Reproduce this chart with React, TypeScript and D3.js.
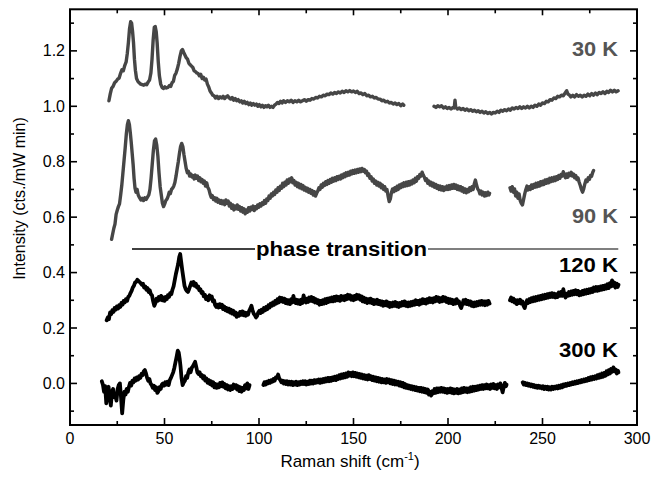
import React from 'react';
import * as d3 from 'd3';

type P = [number, number];

const xMajor = [0, 50, 100, 150, 200, 250, 300];
const xMinor = [25, 75, 125, 175, 225, 275];
const yMajor = [0, 0.2, 0.4, 0.6, 0.8, 1.0, 1.2];
const yMinor = [-0.1, 0.1, 0.3, 0.5, 0.7, 0.9, 1.1, 1.3];

const k30a: P[] = [[20.6,1.02],[21.3,1.045],[22,1.065],[22.8,1.072],[23.6,1.085],[24.4,1.09],[25.2,1.098],[26,1.102],[26.8,1.12],[27.5,1.132],[28.2,1.128],[29,1.148],[29.7,1.16],[30.3,1.19],[30.9,1.23],[31.5,1.28],[32.1,1.305],[32.6,1.3],[33.1,1.27],[33.6,1.23],[34.1,1.17],[34.6,1.13],[35.2,1.1],[35.9,1.09],[36.6,1.085],[37.4,1.08],[38.2,1.078],[39,1.076],[39.8,1.08],[40.6,1.078],[41.4,1.088],[42.1,1.095],[42.8,1.12],[43.4,1.17],[44,1.24],[44.6,1.285],[45.1,1.288],[45.6,1.27],[46.1,1.23],[46.7,1.16],[47.3,1.11],[48,1.08],[48.7,1.068],[49.4,1.064],[50.2,1.07],[51,1.066],[51.8,1.068],[52.6,1.075],[53.3,1.072],[54,1.085],[54.7,1.09],[55.4,1.112],[56.1,1.12],[56.8,1.135],[57.5,1.155],[58.2,1.18],[58.9,1.2],[59.5,1.205],[60.1,1.195],[60.8,1.185],[61.5,1.175],[62.2,1.17],[62.9,1.155],[63.6,1.15],[64.3,1.145],[65,1.14],[65.7,1.128],[66.4,1.125],[67.1,1.12],[67.8,1.118],[68.5,1.11],[69.2,1.115],[69.9,1.1],[70.6,1.105],[71.3,1.095],[72,1.098],[72.7,1.08],[73.4,1.07],[74.1,1.055],[74.8,1.048],[75.5,1.04],[76.2,1.038],[77,1.03],[77.8,1.036],[78.6,1.028],[79.4,1.034],[80.2,1.03],[81,1.036],[81.8,1.028],[82.6,1.034],[83.4,1.038],[84.2,1.03],[85,1.026],[85.8,1.032],[86.6,1.022],[87.4,1.028],[88.2,1.02],[89,1.024],[89.8,1.016],[90.6,1.02],[91.4,1.012],[92.2,1.018],[93,1.01],[93.8,1.014],[94.6,1.006],[95.4,1.012],[96.2,1.004],[97,1.01],[97.8,1.004],[98.6,1.008],[99.4,1],[100.2,1.006],[101,0.998],[101.8,1.004],[102.6,0.996],[103.4,1.002],[104.2,0.998],[105,1.004],[105.8,0.996],[106.6,1],[107.4,0.996],[108.2,1.004],[109,1.008],[109.8,1.014],[110.6,1.01],[111.4,1.018],[112.2,1.012],[113,1.02],[114,1.014],[115,1.02],[116,1.016],[117,1.022],[118,1.014],[119,1.02],[120,1.016],[121,1.022],[122,1.016],[123,1.02],[124,1.024],[125,1.018],[126,1.024],[127,1.022],[128,1.028],[129,1.026],[130,1.032],[131,1.03],[132,1.036],[133,1.034],[134,1.04],[135,1.038],[136,1.044],[137,1.042],[138,1.048],[139,1.044],[140,1.05],[141,1.046],[142,1.052],[143,1.048],[144,1.054],[145,1.05],[146,1.056],[147,1.052],[148,1.057],[149,1.052],[150,1.055],[151,1.05],[152,1.054],[153,1.046],[154,1.048],[155,1.042],[156,1.046],[157,1.038],[158,1.04],[159,1.034],[160,1.036],[161,1.03],[162,1.032],[163,1.026],[164,1.026],[165,1.02],[166,1.022],[167,1.016],[168,1.018],[169,1.012],[170,1.014],[171,1.008],[172,1.012],[173,1.006],[174,1.01],[175,1.002],[176,1.008],[176.6,1.004]];
const k30b: P[] = [[192.6,1],[193.6,0.996],[194.6,1.002],[195.6,0.998],[196.6,1.002],[197.6,0.994],[198.6,0.998],[199.6,0.992],[200.6,0.996],[201.6,0.99],[202.6,0.996],[203.3,0.994],[203.7,1.022],[204.1,0.996],[205,0.99],[206,0.994],[207,0.988],[208,0.992],[209,0.986],[210,0.99],[211,0.984],[212,0.988],[213,0.982],[214,0.986],[215,0.98],[216,0.984],[217,0.978],[218,0.982],[219,0.976],[220,0.98],[221,0.974],[222,0.978],[223,0.972],[224,0.978],[225,0.976],[226,0.982],[227,0.978],[228,0.986],[229,0.982],[230,0.988],[231,0.984],[232,0.99],[233,0.986],[234,0.994],[235,0.99],[236,0.996],[237,0.992],[238,0.998],[239,0.992],[240,0.998],[241,0.994],[242,1],[243,0.994],[244,1],[245,0.996],[246,1.004],[247,1],[248,1.008],[249,1.004],[250,1.012],[251,1.01],[252,1.018],[253,1.016],[254,1.024],[255,1.022],[256,1.03],[257,1.028],[258,1.036],[259,1.034],[260,1.04],[261,1.038],[262,1.048],[262.8,1.056],[263.5,1.044],[264.3,1.04],[265,1.034],[266,1.04],[267,1.034],[268,1.042],[269,1.036],[270,1.04],[271,1.034],[272,1.04],[273,1.036],[274,1.044],[275,1.038],[276,1.046],[277,1.04],[278,1.048],[279,1.042],[280,1.05],[281,1.046],[282,1.052],[283,1.046],[284,1.054],[285,1.05],[286,1.058],[287,1.052],[288,1.058],[289,1.052],[290,1.056]];

const k90a: P[] = [[22,0.52],[22.6,0.54],[23.2,0.56],[23.8,0.575],[24.4,0.61],[25,0.625],[25.6,0.638],[26.2,0.648],[26.8,0.68],[27.4,0.715],[28,0.76],[28.6,0.805],[29.2,0.85],[29.8,0.9],[30.4,0.935],[30.9,0.948],[31.4,0.935],[31.9,0.905],[32.4,0.87],[32.9,0.83],[33.4,0.79],[33.9,0.74],[34.4,0.705],[34.9,0.69],[35.5,0.7],[36.1,0.68],[36.8,0.67],[37.5,0.662],[38.2,0.668],[38.9,0.66],[39.6,0.67],[40.3,0.664],[41,0.672],[41.7,0.68],[42.3,0.7],[42.9,0.74],[43.5,0.79],[44.1,0.84],[44.7,0.875],[45.3,0.882],[45.9,0.86],[46.5,0.82],[47.1,0.76],[47.7,0.71],[48.3,0.68],[48.9,0.65],[49.5,0.638],[50.1,0.648],[50.7,0.66],[51.3,0.665],[51.9,0.675],[52.5,0.69],[53.1,0.685],[53.7,0.7],[54.3,0.705],[54.9,0.712],[55.5,0.725],[56.1,0.748],[56.7,0.775],[57.3,0.8],[57.9,0.83],[58.5,0.855],[59.1,0.866],[59.7,0.855],[60.3,0.825],[60.9,0.8],[61.5,0.775],[62.1,0.76],[62.7,0.765],[63.3,0.748],[63.9,0.756],[64.5,0.745],[65.1,0.75],[65.7,0.738],[66.3,0.752],[66.9,0.74],[67.5,0.748],[68.1,0.732],[68.7,0.742],[69.3,0.728],[69.9,0.736],[70.5,0.722],[71.1,0.73],[71.7,0.712],[72.3,0.724],[72.9,0.708],[73.5,0.7],[74.1,0.684],[74.7,0.672],[75.3,0.678],[75.9,0.664],[76.5,0.67],[77.1,0.658],[77.7,0.668],[78.3,0.654],[78.9,0.662],[79.5,0.65],[80.1,0.66],[80.7,0.648],[81.3,0.658],[81.9,0.645],[82.5,0.662],[83.1,0.65],[83.7,0.658],[84.3,0.64],[84.9,0.65],[85.5,0.632],[86.1,0.644],[86.7,0.626],[87.3,0.64],[87.9,0.63],[88.5,0.644],[89.1,0.628],[89.7,0.638],[90.3,0.622],[90.9,0.634],[91.5,0.618],[92.1,0.63],[92.7,0.612],[93.3,0.626],[93.9,0.618],[94.5,0.634],[95.1,0.622],[95.7,0.636],[96.3,0.628],[96.9,0.64],[97.5,0.624],[98.1,0.638],[98.7,0.63],[99.3,0.644],[99.9,0.636],[100.5,0.648],[101.1,0.64],[101.7,0.652],[102.3,0.646],[102.9,0.66],[103.5,0.65],[104.1,0.666],[104.7,0.66],[105.3,0.676],[105.9,0.668],[106.5,0.684],[107.1,0.676],[107.7,0.69],[108.3,0.682],[108.9,0.698],[109.5,0.69],[110.1,0.706],[110.7,0.696],[111.3,0.712],[111.9,0.704],[112.5,0.722],[113.1,0.71],[113.7,0.726],[114.3,0.716],[114.9,0.734],[115.5,0.722],[116.1,0.738],[116.7,0.728],[117.3,0.742],[117.9,0.724],[118.5,0.732],[119.1,0.716],[119.7,0.726],[120.3,0.71],[120.9,0.722],[121.5,0.706],[122.1,0.718],[122.7,0.702],[123.3,0.714],[123.9,0.698],[124.5,0.708],[125.1,0.694],[125.7,0.704],[126.3,0.69],[126.9,0.7],[127.5,0.686],[128.1,0.696],[128.7,0.68],[129.3,0.692],[129.9,0.676],[130.5,0.686],[131.1,0.694],[131.7,0.706],[132.3,0.7],[132.9,0.716],[133.5,0.708],[134.1,0.722],[134.7,0.714],[135.3,0.728],[135.9,0.718],[136.5,0.732],[137.1,0.722],[137.7,0.736],[138.3,0.726],[138.9,0.74],[139.5,0.73],[140.1,0.742],[140.7,0.732],[141.3,0.746],[141.9,0.736],[142.5,0.748],[143.1,0.738],[143.7,0.752],[144.3,0.742],[144.9,0.756],[145.5,0.746],[146.1,0.76],[146.7,0.75],[147.3,0.762],[147.9,0.752],[148.5,0.766],[149.1,0.756],[149.7,0.768],[150.3,0.758],[150.9,0.77],[151.5,0.76],[152.1,0.772],[152.7,0.762],[153.3,0.774],[153.9,0.764],[154.5,0.776],[155.1,0.766],[155.7,0.772],[156.3,0.76],[156.9,0.766],[157.5,0.75],[158.1,0.756],[158.7,0.74],[159.3,0.746],[159.9,0.73],[160.5,0.738],[161.1,0.722],[161.7,0.73],[162.3,0.716],[162.9,0.726],[163.5,0.712],[164.1,0.722],[164.7,0.706],[165.3,0.716],[165.9,0.7],[166.5,0.71],[167.1,0.694],[167.7,0.7],[168.3,0.676],[168.9,0.656],[169.5,0.666],[170.1,0.69],[170.7,0.702],[171.3,0.692],[171.9,0.706],[172.5,0.696],[173.1,0.712],[173.7,0.7],[174.3,0.716],[174.9,0.706],[175.5,0.72],[176.1,0.71],[176.7,0.724],[177.3,0.712],[177.9,0.726],[178.5,0.714],[179.1,0.728],[179.7,0.716],[180.3,0.73],[180.9,0.72],[181.5,0.734],[182.1,0.724],[182.7,0.74],[183.3,0.73],[183.9,0.746],[184.5,0.74],[185.1,0.754],[185.7,0.748],[186.3,0.762],[186.9,0.752],[187.5,0.744],[188.1,0.732],[188.7,0.738],[189.3,0.722],[189.9,0.73],[190.5,0.716],[191.1,0.726],[191.7,0.712],[192.3,0.722],[192.9,0.708],[193.5,0.718],[194.1,0.704],[194.7,0.714],[195.3,0.7],[195.9,0.712],[196.5,0.698],[197.1,0.71],[197.7,0.696],[198.3,0.708],[198.9,0.7],[199.5,0.712],[200.1,0.7],[200.7,0.714],[201.3,0.702],[201.9,0.716],[202.5,0.704],[203.1,0.718],[203.7,0.704],[204.3,0.716],[204.9,0.7],[205.5,0.712],[206.1,0.698],[206.7,0.71],[207.3,0.694],[207.9,0.706],[208.5,0.69],[209.1,0.702],[209.7,0.688],[210.3,0.7],[210.9,0.692],[211.5,0.706],[212.1,0.696],[212.7,0.71],[213.3,0.7],[213.9,0.72],[214.5,0.734],[215.1,0.716],[215.7,0.702],[216.3,0.696],[216.9,0.684],[217.5,0.694],[218.1,0.68],[218.7,0.69],[219.3,0.676],[219.9,0.688],[220.5,0.678],[221.1,0.69],[221.7,0.68],[222,0.686]];
const k90b: P[] = [[232.8,0.706],[233.4,0.694],[234,0.71],[234.6,0.69],[235.2,0.702],[235.8,0.676],[236.4,0.69],[237,0.668],[237.6,0.684],[238.2,0.66],[238.8,0.65],[239.4,0.644],[240,0.664],[240.6,0.684],[241.2,0.7],[241.8,0.712],[242.4,0.698],[243,0.71],[243.6,0.7],[244.2,0.716],[244.8,0.704],[245.4,0.718],[246,0.708],[246.6,0.722],[247.2,0.71],[247.8,0.724],[248.4,0.712],[249,0.728],[249.6,0.716],[250.2,0.73],[250.8,0.718],[251.4,0.734],[252,0.722],[252.6,0.736],[253.2,0.724],[253.8,0.74],[254.4,0.728],[255,0.742],[255.6,0.73],[256.2,0.744],[256.8,0.732],[257.4,0.746],[258,0.736],[258.6,0.75],[259.2,0.74],[259.8,0.754],[260.4,0.748],[261,0.764],[261.6,0.752],[262.2,0.742],[262.8,0.756],[263.4,0.744],[264,0.758],[264.6,0.75],[265.2,0.762],[265.8,0.748],[266.4,0.756],[267,0.742],[267.6,0.75],[268.2,0.736],[268.8,0.742],[269.4,0.726],[270,0.714],[270.6,0.7],[271.2,0.69],[271.8,0.702],[272.4,0.72],[273,0.734],[273.6,0.728],[274.2,0.742],[274.8,0.736],[275.4,0.75],[276,0.748],[276.6,0.762],[277,0.768]];

const k120a: P[] = [[19.4,0.228],[20,0.238],[20.6,0.232],[21.2,0.256],[21.8,0.25],[22.4,0.264],[23,0.258],[23.6,0.272],[24.2,0.266],[24.8,0.278],[25.4,0.27],[26,0.282],[26.6,0.276],[27.2,0.29],[27.8,0.284],[28.4,0.298],[29,0.292],[29.6,0.304],[30.2,0.298],[30.8,0.312],[31.4,0.316],[32,0.326],[32.6,0.334],[33.2,0.346],[33.8,0.352],[34.4,0.364],[35,0.366],[35.6,0.374],[36.2,0.37],[36.8,0.366],[37.4,0.362],[38,0.356],[38.6,0.36],[39.2,0.346],[39.8,0.35],[40.4,0.338],[41,0.344],[41.6,0.33],[42.2,0.336],[42.8,0.322],[43.4,0.318],[44,0.296],[44.6,0.28],[45.2,0.29],[45.8,0.306],[46.4,0.298],[47,0.312],[47.6,0.302],[48.2,0.316],[48.8,0.3],[49.4,0.31],[50,0.298],[50.6,0.312],[51.2,0.304],[51.8,0.318],[52.4,0.312],[53,0.326],[53.6,0.322],[54.2,0.338],[54.8,0.35],[55.4,0.372],[56,0.394],[56.6,0.412],[57.2,0.43],[57.8,0.456],[58.3,0.467],[58.8,0.44],[59.4,0.408],[60,0.38],[60.6,0.352],[61.2,0.34],[61.8,0.334],[62.4,0.33],[63,0.34],[63.6,0.352],[64.2,0.364],[64.8,0.356],[65.4,0.366],[66,0.352],[66.6,0.36],[67.2,0.346],[67.8,0.35],[68.4,0.336],[69,0.34],[69.6,0.326],[70.2,0.33],[70.8,0.314],[71.4,0.32],[72,0.304],[72.6,0.312],[73.2,0.3],[73.8,0.318],[74.4,0.306],[75,0.314],[75.6,0.296],[76.2,0.3],[76.8,0.282],[77.4,0.276],[78,0.284],[78.6,0.274],[79.2,0.286],[79.8,0.276],[80.4,0.284],[81,0.268],[81.6,0.278],[82.2,0.264],[82.8,0.272],[83.4,0.26],[84,0.27],[84.6,0.256],[85.2,0.266],[85.8,0.252],[86.4,0.262],[87,0.248],[87.6,0.256],[88.2,0.24],[88.8,0.252],[89.4,0.244],[90,0.258],[90.6,0.248],[91.2,0.26],[91.8,0.246],[92.4,0.256],[93,0.244],[93.6,0.254],[94.2,0.248],[94.8,0.262],[95.4,0.27],[96,0.28],[96.6,0.264],[97.2,0.252],[97.8,0.246],[98.4,0.238],[99,0.244],[99.6,0.256],[100.2,0.262],[100.8,0.254],[101.4,0.266],[102,0.258],[102.6,0.272],[103.2,0.264],[103.8,0.276],[104.4,0.268],[105,0.282],[105.6,0.274],[106.2,0.288],[106.8,0.28],[107.4,0.292],[108,0.284],[108.6,0.298],[109.2,0.288],[109.8,0.304],[110.4,0.292],[111,0.31],[111.6,0.296],[112.2,0.308],[112.8,0.294],[113.4,0.306],[114,0.29],[114.6,0.302],[115.2,0.288],[115.8,0.3],[116.4,0.286],[117,0.304],[117.6,0.292],[118.2,0.316],[118.8,0.298],[119.4,0.29],[120,0.302],[120.6,0.288],[121.2,0.3],[121.8,0.286],[122.4,0.302],[123,0.29],[123.6,0.318],[124.2,0.3],[124.8,0.292],[125.4,0.306],[126,0.294],[126.6,0.31],[127.2,0.298],[127.8,0.312],[128.4,0.296],[129,0.308],[129.6,0.292],[130.2,0.304],[130.8,0.29],[131.4,0.3],[132,0.284],[132.6,0.298],[133.2,0.286],[133.8,0.3],[134.4,0.288],[135,0.304],[135.6,0.29],[136.2,0.306],[136.8,0.294],[137.4,0.308],[138,0.296],[138.6,0.31],[139.2,0.296],[139.8,0.312],[140.4,0.298],[141,0.314],[141.6,0.3],[142.2,0.312],[142.8,0.298],[143.4,0.316],[144,0.302],[144.6,0.314],[145.2,0.3],[145.8,0.316],[146.4,0.304],[147,0.32],[147.6,0.306],[148.2,0.318],[148.8,0.302],[149.4,0.314],[150,0.3],[150.6,0.316],[151.2,0.304],[151.8,0.32],[152.4,0.306],[153,0.318],[153.6,0.302],[154.2,0.314],[154.8,0.296],[155.4,0.31],[156,0.294],[156.6,0.306],[157.2,0.29],[157.8,0.304],[158.4,0.292],[159,0.306],[159.6,0.29],[160.2,0.302],[160.8,0.286],[161.4,0.3],[162,0.288],[162.6,0.302],[163.2,0.286],[163.8,0.298],[164.4,0.284],[165,0.296],[165.6,0.28],[166.2,0.294],[166.8,0.282],[167.4,0.296],[168,0.28],[168.6,0.292],[169.2,0.276],[169.8,0.29],[170.4,0.278],[171,0.292],[171.6,0.28],[172.2,0.294],[172.8,0.278],[173.4,0.29],[174,0.276],[174.6,0.29],[175.2,0.28],[175.8,0.294],[176.4,0.282],[177,0.296],[177.6,0.28],[178.2,0.292],[178.8,0.278],[179.4,0.292],[180,0.28],[180.6,0.294],[181.2,0.282],[181.8,0.296],[182.4,0.284],[183,0.3],[183.6,0.286],[184.2,0.298],[184.8,0.284],[185.4,0.3],[186,0.288],[186.6,0.304],[187.2,0.29],[187.8,0.302],[188.4,0.288],[189,0.304],[189.6,0.292],[190.2,0.308],[190.8,0.294],[191.4,0.306],[192,0.292],[192.6,0.308],[193.2,0.296],[193.8,0.312],[194.4,0.298],[195,0.31],[195.6,0.294],[196.2,0.308],[196.8,0.296],[197.4,0.312],[198,0.298],[198.6,0.31],[199.2,0.294],[199.8,0.306],[200.4,0.29],[201,0.304],[201.6,0.29],[202.2,0.302],[202.8,0.286],[203.4,0.3],[204,0.288],[204.6,0.304],[205.2,0.29],[205.8,0.296],[206.4,0.28],[207,0.272],[207.6,0.286],[208.2,0.3],[208.8,0.288],[209.4,0.302],[210,0.286],[210.6,0.298],[211.2,0.284],[211.8,0.296],[212.4,0.28],[213,0.292],[213.6,0.278],[214.2,0.292],[214.8,0.28],[215.4,0.294],[216,0.282],[216.6,0.296],[217.2,0.284],[217.8,0.298],[218.4,0.284],[219,0.296],[219.6,0.282],[220.2,0.296],[220.8,0.284],[221.4,0.298],[222,0.288]];
const k120b: P[] = [[232.8,0.3],[233.4,0.31],[234,0.296],[234.6,0.306],[235.2,0.292],[235.8,0.3],[236.4,0.286],[237,0.3],[237.6,0.29],[238.2,0.302],[238.8,0.288],[239.4,0.296],[240,0.28],[240.6,0.272],[241.2,0.288],[241.8,0.3],[242.4,0.29],[243,0.304],[243.6,0.294],[244.2,0.308],[244.8,0.296],[245.4,0.31],[246,0.298],[246.6,0.312],[247.2,0.3],[247.8,0.314],[248.4,0.302],[249,0.316],[249.6,0.304],[250.2,0.318],[250.8,0.306],[251.4,0.32],[252,0.308],[252.6,0.322],[253.2,0.31],[253.8,0.324],[254.4,0.312],[255,0.326],[255.6,0.312],[256.2,0.324],[256.8,0.31],[257.4,0.322],[258,0.312],[258.6,0.328],[259.2,0.316],[259.8,0.33],[260.4,0.316],[261,0.34],[261.6,0.32],[262.2,0.31],[262.8,0.324],[263.4,0.316],[264,0.33],[264.6,0.318],[265.2,0.332],[265.8,0.32],[266.4,0.334],[267,0.322],[267.6,0.336],[268.2,0.322],[268.8,0.334],[269.4,0.318],[270,0.33],[270.6,0.32],[271.2,0.334],[271.8,0.322],[272.4,0.336],[273,0.324],[273.6,0.338],[274.2,0.326],[274.8,0.34],[275.4,0.328],[276,0.342],[276.6,0.33],[277.2,0.346],[277.8,0.334],[278.4,0.348],[279,0.334],[279.6,0.348],[280.2,0.336],[280.8,0.35],[281.4,0.338],[282,0.352],[282.6,0.34],[283.2,0.354],[283.8,0.342],[284.4,0.358],[285,0.344],[285.6,0.362],[286.2,0.35],[286.8,0.372],[287.4,0.352],[288,0.364],[288.6,0.346],[289.2,0.36],[289.8,0.348],[290.2,0.356]];

const k300a: P[] = [[16.8,0.008],[17.4,-0.004],[18,-0.03],[18.6,-0.01],[19.2,-0.072],[19.8,-0.04],[20.4,-0.012],[21,-0.05],[21.6,-0.08],[22.2,-0.03],[22.8,-0.02],[23.4,-0.05],[24,-0.04],[24.6,-0.062],[25.2,-0.02],[25.8,-0.006],[26.4,0],[27,-0.05],[27.6,-0.108],[28.2,-0.06],[28.8,-0.03],[29.4,-0.04],[30,-0.02],[30.6,-0.03],[31.2,-0.012],[31.8,0.002],[32.4,-0.008],[33,0.01],[33.6,0.004],[34.2,0.018],[34.8,0.01],[35.4,0.022],[36,0.014],[36.6,0.026],[37.2,0.02],[37.8,0.034],[38.4,0.03],[39,0.044],[39.6,0.048],[40.2,0.036],[40.8,0.02],[41.4,0.01],[42,0.016],[42.6,0],[43.2,-0.006],[43.8,-0.016],[44.4,-0.008],[45,-0.024],[45.6,-0.014],[46.2,-0.034],[46.8,-0.028],[47.4,-0.014],[48,-0.02],[48.6,-0.004],[49.2,0],[49.8,-0.008],[50.4,0.004],[51,-0.004],[51.6,0.006],[52.2,-0.006],[52.8,0.012],[53.4,0.02],[54,0.03],[54.6,0.04],[55.2,0.056],[55.8,0.076],[56.4,0.096],[57,0.118],[57.5,0.112],[58,0.09],[58.5,0.06],[59,0.02],[59.6,-0.006],[60.2,0.004],[60.8,0.01],[61.4,0.026],[62,0.02],[62.6,0.04],[63.2,0.05],[63.8,0.04],[64.4,0.056],[65,0.062],[65.6,0.07],[66.2,0.078],[66.8,0.06],[67.4,0.04],[68,0.034],[68.6,0.04],[69.2,0.026],[69.8,0.03],[70.4,0.018],[71,0.026],[71.6,0.01],[72.2,0.018],[72.8,0.002],[73.4,0.012],[74,-0.002],[74.6,0.008],[75.2,-0.008],[75.8,0.004],[76.4,-0.014],[77,-0.002],[77.6,-0.016],[78.2,-0.004],[78.8,-0.014],[79.4,0.002],[80,-0.01],[80.6,0.004],[81.2,-0.012],[81.8,-0.002],[82.4,-0.018],[83,-0.006],[83.6,-0.022],[84.2,-0.01],[84.8,-0.024],[85.4,-0.01],[86,-0.02],[86.6,-0.004],[87.2,-0.016],[87.8,-0.006],[88.4,-0.022],[89,-0.01],[89.6,-0.028],[90.2,-0.014],[90.8,-0.03],[91.4,-0.016],[92,-0.024],[92.6,-0.006],[93.2,-0.018],[93.8,0],[94.4,-0.02],[95,-0.006]];
const k300b: P[] = [[102.3,-0.006],[102.9,0.004],[103.5,-0.004],[104.1,0.006],[104.7,0],[105.3,0.01],[105.9,0.002],[106.5,0.012],[107.1,0.006],[107.7,0.016],[108.3,0.01],[108.9,0.022],[109.5,0.02],[110.1,0.032],[110.7,0.018],[111.3,0.012],[111.9,0.004],[112.5,0.01],[113.1,0],[113.7,0.008],[114.3,-0.002],[114.9,0.008],[115.5,-0.004],[116.1,0.006],[116.7,-0.004],[117.3,0.006],[117.9,-0.006],[118.5,0.004],[119.1,-0.004],[119.7,0.006],[120.3,-0.006],[120.9,0.004],[121.5,-0.004],[122.1,0.006],[122.7,-0.002],[123.3,0.008],[123.9,-0.002],[124.5,0.008],[125.1,-0.004],[125.7,0.006],[126.3,-0.002],[126.9,0.01],[127.5,0],[128.1,0.01],[128.7,0],[129.3,0.012],[129.9,0.002],[130.5,0.012],[131.1,0.004],[131.7,0.014],[132.3,0.002],[132.9,0.014],[133.5,0.004],[134.1,0.016],[134.7,0.006],[135.3,0.018],[135.9,0.008],[136.5,0.02],[137.1,0.008],[137.7,0.02],[138.3,0.01],[138.9,0.022],[139.5,0.012],[140.1,0.024],[140.7,0.012],[141.3,0.026],[141.9,0.016],[142.5,0.03],[143.1,0.018],[143.7,0.032],[144.3,0.02],[144.9,0.034],[145.5,0.022],[146.1,0.036],[146.7,0.024],[147.3,0.04],[147.9,0.028],[148.5,0.038],[149.1,0.026],[149.7,0.04],[150.3,0.026],[150.9,0.038],[151.5,0.024],[152.1,0.036],[152.7,0.022],[153.3,0.034],[153.9,0.02],[154.5,0.032],[155.1,0.018],[155.7,0.03],[156.3,0.016],[156.9,0.028],[157.5,0.014],[158.1,0.03],[158.7,0.016],[159.3,0.026],[159.9,0.012],[160.5,0.024],[161.1,0.01],[161.7,0.022],[162.3,0.008],[162.9,0.02],[163.5,0.006],[164.1,0.018],[164.7,0.004],[165.3,0.016],[165.9,0.004],[166.5,0.014],[167.1,0.002],[167.7,0.016],[168.3,0.004],[168.9,0.014],[169.5,0],[170.1,0.012],[170.7,-0.002],[171.3,0.01],[171.9,-0.004],[172.5,0.008],[173.1,-0.004],[173.7,0.006],[174.3,-0.008],[174.9,0.004],[175.5,-0.01],[176.1,0.002],[176.7,-0.014],[177.3,-0.002],[177.9,-0.016],[178.5,-0.006],[179.1,-0.018],[179.7,-0.008],[180.3,-0.02],[180.9,-0.01],[181.5,-0.022],[182.1,-0.012],[182.7,-0.024],[183.3,-0.014],[183.9,-0.026],[184.5,-0.016],[185.1,-0.028],[185.7,-0.016],[186.3,-0.03],[186.9,-0.018],[187.5,-0.032],[188.1,-0.02],[188.7,-0.034],[189.3,-0.022],[189.9,-0.04],[190.5,-0.03],[191.1,-0.044],[191.7,-0.028],[192.3,-0.036],[192.9,-0.02],[193.5,-0.034],[194.1,-0.018],[194.7,-0.032],[195.3,-0.018],[195.9,-0.03],[196.5,-0.016],[197.1,-0.03],[197.7,-0.018],[198.3,-0.032],[198.9,-0.02],[199.5,-0.034],[200.1,-0.02],[200.7,-0.032],[201.3,-0.018],[201.9,-0.034],[202.5,-0.02],[203.1,-0.036],[203.7,-0.022],[204.3,-0.034],[204.9,-0.02],[205.5,-0.036],[206.1,-0.022],[206.7,-0.034],[207.3,-0.018],[207.9,-0.032],[208.5,-0.016],[209.1,-0.03],[209.7,-0.018],[210.3,-0.032],[210.9,-0.018],[211.5,-0.03],[212.1,-0.014],[212.7,-0.028],[213.3,-0.012],[213.9,-0.026],[214.5,-0.012],[215.1,-0.024],[215.7,-0.01],[216.3,-0.022],[216.9,-0.008],[217.5,-0.02],[218.1,-0.006],[218.7,-0.02],[219.3,-0.006],[219.9,-0.018],[220.5,-0.004],[221.1,-0.018],[221.7,-0.006],[222.3,-0.02],[222.9,-0.004],[223.5,-0.016],[224.1,-0.002],[224.7,-0.018],[225.3,-0.006],[225.9,-0.02],[226.5,-0.004],[227.1,-0.014],[227.7,0],[228.3,-0.016],[228.9,-0.032],[229.5,-0.012],[230.1,0.002],[230.7,-0.01],[231,-0.004]];
const k300c: P[] = [[239.5,0.004],[240.1,-0.004],[240.7,0.002],[241.3,-0.006],[241.9,0],[242.5,-0.008],[243.1,-0.002],[243.7,-0.01],[244.3,-0.004],[244.9,-0.012],[245.5,-0.006],[246.1,-0.014],[246.7,-0.008],[247.3,-0.016],[247.9,-0.008],[248.5,-0.016],[249.1,-0.01],[249.7,-0.018],[250.3,-0.01],[250.9,-0.02],[251.5,-0.012],[252.1,-0.02],[252.7,-0.012],[253.3,-0.022],[253.9,-0.014],[254.5,-0.022],[255.1,-0.012],[255.7,-0.02],[256.3,-0.012],[256.9,-0.018],[257.5,-0.01],[258.1,-0.018],[258.7,-0.008],[259.3,-0.016],[259.9,-0.006],[260.5,-0.014],[261.1,-0.004],[261.7,-0.01],[262.3,-0.002],[262.9,-0.008],[263.5,0],[264.1,-0.006],[264.7,0.002],[265.3,-0.004],[265.9,0.004],[266.5,-0.002],[267.1,0.006],[267.7,0],[268.3,0.008],[268.9,0.002],[269.5,0.01],[270.1,0.004],[270.7,0.012],[271.3,0.006],[271.9,0.014],[272.5,0.008],[273.1,0.016],[273.7,0.01],[274.3,0.02],[274.9,0.012],[275.5,0.022],[276.1,0.014],[276.7,0.024],[277.3,0.016],[277.9,0.026],[278.5,0.018],[279.1,0.03],[279.7,0.02],[280.3,0.032],[280.9,0.022],[281.5,0.036],[282.1,0.024],[282.7,0.038],[283.3,0.028],[283.9,0.044],[284.5,0.032],[285.1,0.048],[285.7,0.036],[286.3,0.052],[286.9,0.042],[287.5,0.058],[288.1,0.044],[288.7,0.05],[289.3,0.036],[289.9,0.046],[290.2,0.04]];

const seriesGray = [k30a, k30b, k90a, k90b];
const seriesBlack = [k120a, k120b, k300a, k300b, k300c];

const labels = [
  { text: '30 K', y: 1.18, color: '#555555', len: 46 },
  { text: '90 K', y: 0.58, color: '#555555', len: 46 },
  { text: '120 K', y: 0.402, color: '#000000', len: 59 },
  { text: '300 K', y: 0.096, color: '#000000', len: 59 },
];

const FONT = '"Liberation Sans", Arial, Helvetica, sans-serif';

export default function App() {
  const W = 651, H = 478;
  const L = 70, R = 637, T = 9.3, B = 425;
  const x = d3.scaleLinear().domain([0, 300]).range([L, R]);
  const y = d3.scaleLinear().domain([-0.15, 1.35]).range([B, T]);
  const line = d3.line<P>().x(d => x(d[0])).y(d => y(d[1]));
  const phaseY = y(0.485);

  return (
    <svg width={W} height={H} style={{ position: 'absolute', left: 0, top: 0, background: '#fff' }} fontFamily={FONT}>
      <rect x={0} y={0} width={W} height={H} fill="#fff" />
      {seriesGray.map((s, i) => (
        <path key={'g' + i} d={line(s) || ''} fill="none" stroke="#464646" strokeWidth={3.4} strokeLinejoin="round" strokeLinecap="round" />
      ))}
      {seriesBlack.map((s, i) => (
        <path key={'b' + i} d={line(s) || ''} fill="none" stroke="#000" strokeWidth={3.8} strokeLinejoin="round" strokeLinecap="round" />
      ))}
      <line x1={x(32.8)} x2={255} y1={phaseY} y2={phaseY} stroke="#000" strokeWidth={1.3} />
      <line x1={428} x2={x(290.1)} y1={phaseY} y2={phaseY} stroke="#000" strokeWidth={1.1} />
      <text x={341.5} y={phaseY + 6.5} textAnchor="middle" fontSize={20} fontWeight="bold" textLength={171} lengthAdjust="spacingAndGlyphs">phase transition</text>
      {labels.map(l => (
        <text key={l.text} x={618} y={y(l.y)} textAnchor="end" fontSize={20} fontWeight="bold" fill={l.color} textLength={l.len} lengthAdjust="spacingAndGlyphs">{l.text}</text>
      ))}
      <rect x={L} y={T} width={R - L} height={B - T} fill="none" stroke="#000" strokeWidth={2} />
      {xMajor.map(v => (
        <g key={'xM' + v}>
          <line x1={x(v)} x2={x(v)} y1={B} y2={B - 7} stroke="#000" strokeWidth={1.6} />
          <line x1={x(v)} x2={x(v)} y1={T} y2={T + 6} stroke="#000" strokeWidth={1.6} />
          <text x={x(v)} y={444} textAnchor="middle" fontSize={16}>{v}</text>
        </g>
      ))}
      {xMinor.map(v => (
        <g key={'xm' + v}>
          <line x1={x(v)} x2={x(v)} y1={B} y2={B - 4} stroke="#000" strokeWidth={1.6} />
          <line x1={x(v)} x2={x(v)} y1={T} y2={T + 4} stroke="#000" strokeWidth={1.6} />
        </g>
      ))}
      {yMajor.map(v => (
        <g key={'yM' + v}>
          <line x1={L} x2={L + 7} y1={y(v)} y2={y(v)} stroke="#000" strokeWidth={1.6} />
          <line x1={R} x2={R - 7} y1={y(v)} y2={y(v)} stroke="#000" strokeWidth={1.6} />
          <text x={65} y={y(v) + 5.5} textAnchor="end" fontSize={16}>{v.toFixed(1)}</text>
        </g>
      ))}
      {yMinor.map(v => (
        <g key={'ym' + v}>
          <line x1={L} x2={L + 4} y1={y(v)} y2={y(v)} stroke="#000" strokeWidth={1.6} />
          <line x1={R} x2={R - 4} y1={y(v)} y2={y(v)} stroke="#000" strokeWidth={1.6} />
        </g>
      ))}
      <text transform={`translate(25,198.5) rotate(-90)`} textAnchor="middle" fontSize={16}>Intensity (cts./mW min)</text>
      <text x={350} y={467} textAnchor="middle" fontSize={17}>
        Raman shift (cm<tspan dy={-7} fontSize={11}>-1</tspan><tspan dy={7}>)</tspan>
      </text>
    </svg>
  );
}
